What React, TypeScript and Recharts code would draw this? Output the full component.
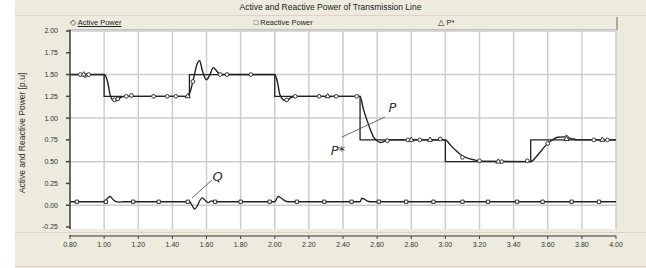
import React from 'react'
import {
  ComposedChart,
  Line,
  Scatter,
  XAxis,
  YAxis,
  ZAxis,
  CartesianGrid,
  ReferenceLine,
  ReferenceDot,
} from 'recharts'

const xTicks = [0.8, 1.0, 1.2, 1.4, 1.6, 1.8, 2.0, 2.2, 2.4, 2.6, 2.8, 3.0, 3.2, 3.4, 3.6, 3.8, 4.0]
const yTicks = [-0.25, 0, 0.25, 0.5, 0.75, 1.0, 1.25, 1.5, 1.75, 2.0]

// P* reference (step)
const refTime = [0.8, 1.0, 1.0, 1.5, 1.5, 2.0, 2.0, 2.5, 2.5, 3.0, 3.0, 3.5, 3.5, 4.0]
const refValue = [1.5, 1.5, 1.25, 1.25, 1.5, 1.5, 1.25, 1.25, 0.75, 0.75, 0.5, 0.5, 0.75, 0.75]

// active power P
const pTime = [
  0.8, 1.0, 1.02, 1.035, 1.05, 1.07, 1.09, 1.12, 1.48, 1.5, 1.52, 1.545, 1.56, 1.575, 1.6, 1.62,
  1.64, 1.66, 1.68, 2.0, 2.015, 2.03, 2.05, 2.07, 2.09, 2.12, 2.5, 2.52, 2.54, 2.56, 2.58, 2.6,
  2.62, 2.65, 2.68, 3.0, 3.03, 3.06, 3.09, 3.13, 3.17, 3.22, 3.5, 3.53, 3.56, 3.59, 3.62, 3.66,
  3.7, 3.74, 3.78, 4.0,
]
const pValue = [
  1.5, 1.5, 1.42, 1.27, 1.21, 1.2, 1.23, 1.25, 1.25, 1.28, 1.42, 1.62, 1.66, 1.55, 1.44, 1.5,
  1.58, 1.54, 1.5, 1.5, 1.42, 1.27, 1.21, 1.2, 1.23, 1.25, 1.25, 1.1, 0.98, 0.87, 0.78, 0.74,
  0.72, 0.74, 0.75, 0.75, 0.69, 0.63, 0.58, 0.54, 0.52, 0.505, 0.5, 0.55, 0.62, 0.69, 0.74, 0.78,
  0.785, 0.765, 0.75, 0.75,
]

// reactive power Q
const qTime = [
  0.8, 1.0, 1.02, 1.035, 1.05, 1.07, 1.09, 1.11, 1.5, 1.515, 1.53, 1.545, 1.56, 1.575, 1.59, 1.61,
  1.63, 1.65, 2.0, 2.02, 2.04, 2.06, 2.08, 2.5, 2.51, 2.525, 2.54, 2.56, 4.0,
]
const qValue = [
  0.04, 0.04, 0.08, 0.1, 0.07, 0.04, 0.035, 0.04, 0.04, 0.0, -0.045, -0.01, 0.05, 0.085, 0.06, 0.03,
  0.05, 0.04, 0.04, 0.1, 0.08, 0.05, 0.04, 0.04, 0.08, 0.07, 0.05, 0.04, 0.04,
]

// markers
const pMarkTime = [
  0.86, 0.89, 0.91, 1.06, 1.08, 1.13, 1.16, 1.29, 1.37, 1.42, 1.52, 1.68, 1.72, 1.86, 2.07, 2.12,
  2.26, 2.36, 2.48, 2.66, 2.78, 2.85, 2.97, 3.1, 3.2, 3.33, 3.48, 3.6, 3.71, 3.87, 3.95,
]
const pMarkValue = [
  1.5, 1.49, 1.5, 1.21, 1.22, 1.25, 1.26, 1.25, 1.25, 1.25, 1.42, 1.5, 1.5, 1.5, 1.21, 1.25,
  1.25, 1.25, 1.25, 0.74, 0.75, 0.75, 0.76, 0.55, 0.51, 0.5, 0.51, 0.71, 0.78, 0.75, 0.75,
]
const qMarkTime = [
  0.84, 1.01, 1.17, 1.32, 1.49, 1.65, 1.8, 1.97, 2.13, 2.29, 2.45, 2.61, 2.77, 2.93, 3.1, 3.25,
  3.42, 3.57, 3.74, 3.9,
]
const qMarkValue = [
  0.04, 0.04, 0.04, 0.04, 0.04, 0.04, 0.04, 0.04, 0.04, 0.04, 0.04, 0.04, 0.04, 0.04, 0.04, 0.04,
  0.04, 0.04, 0.04, 0.04,
]
const refMarkTime = [0.88, 1.49, 2.31, 2.8, 2.91, 3.31, 3.71, 3.92]
const refMarkValue = [1.5, 1.25, 1.25, 0.75, 0.75, 0.5, 0.76, 0.75]

// hand-drawn callouts
const callouts = [
  { text: 'P', x: 2.69, y: 1.12 },
  { text: 'P*', x: 2.37, y: 0.63 },
  { text: 'Q', x: 1.665, y: 0.33 },
]
const pointers = [
  { x1: 2.394, y1: 0.783, x2: 2.646, y2: 1.013 },
  { x1: 1.515, y1: 0.083, x2: 1.632, y2: 0.289 },
]

const zip = (t: number[], v: number[]) => t.map((x, i) => ({ t: x, v: v[i] }))

const refData = zip(refTime, refValue)
const pData = zip(pTime, pValue)
const qData = zip(qTime, qValue)
const pMarks = zip(pMarkTime, pMarkValue)
const qMarks = zip(qMarkTime, qMarkValue)
const refMarks = zip(refMarkTime, refMarkValue)

const BEIGE = '#ecebdd'
const PINK = '#e8cfc6'
const NARROW = "'Liberation Sans Narrow', 'Liberation Sans', Arial, sans-serif"

const App = () => {
  return (
    <div style={{ position: 'relative', width: 646, height: 268, background: '#fff', overflow: 'hidden' }}>
      <style>{'body{margin:0}'}</style>
      <div style={{ position: 'absolute', left: 15, top: 0, width: 631, height: 268, background: BEIGE }} />
      <div
        style={{
          position: 'absolute',
          left: 15,
          top: 0,
          width: 631,
          height: 15,
          borderBottom: `1px solid ${PINK}`,
          textAlign: 'center',
          fontFamily: NARROW,
          fontSize: 8.5,
          lineHeight: '15px',
          color: '#222',
        }}
      >
        Active and Reactive Power of Transmission Line
      </div>
      <div
        style={{
          position: 'absolute',
          left: 68,
          top: 17,
          width: 548,
          height: 12,
          borderRight: '2px solid #a9a9a2',
          borderBottom: '1px solid #a9a9a2',
          display: 'flex',
          fontFamily: NARROW,
          fontSize: 7.5,
          lineHeight: '12px',
          color: '#222',
        }}
      >
        <div style={{ width: 183, paddingLeft: 2 }}>
          ◇ <span style={{ textDecoration: 'underline' }}>Active Power</span>
        </div>
        <div style={{ width: 183, paddingLeft: 3 }}>□ Reactive Power</div>
        <div style={{ width: 180, paddingLeft: 4 }}>△ P*</div>
      </div>
      <div style={{ position: 'absolute', left: 0, top: 0 }}>
        <ComposedChart width={646} height={268} margin={{ top: 30, right: 30, left: 0, bottom: 8 }}>
          <CartesianGrid fill="#fff" stroke="#cdcdcd" strokeWidth={1.5} />
          <XAxis
            dataKey="t"
            type="number"
            domain={[0.8, 4.0]}
            ticks={xTicks}
            allowDataOverflow
            height={24}
            tickFormatter={(v: number) => v.toFixed(2)}
            stroke="#444"
            tickSize={3}
            tickMargin={3}
            tick={{ fontSize: 7, fontFamily: NARROW, fill: '#333' }}
          />
          <YAxis
            dataKey="v"
            type="number"
            domain={[-0.25, 2.0]}
            ticks={yTicks}
            allowDataOverflow
            width={70}
            padding={{ top: 1, bottom: 9 }}
            tickFormatter={(v: number) => v.toFixed(2)}
            stroke="#444"
            strokeWidth={1.5}
            tickSize={4}
            tickMargin={8}
            tick={{ fontSize: 7, fontFamily: NARROW, fill: '#333' }}
            label={{
              value: 'Active and Reactive Power [p.u]',
              angle: -90,
              position: 'center',
              dx: -13,
              style: { fontSize: 8.5, fontFamily: "'Liberation Sans', Arial, sans-serif", fill: '#333' },
            }}
          />
          <ZAxis range={[11, 11]} />
          <Line data={refData} dataKey="v" type="linear" stroke="#222" strokeWidth={1.3} dot={false} isAnimationActive={false} />
          <Line data={qData} dataKey="v" type="monotone" stroke="#222" strokeWidth={1.3} dot={false} isAnimationActive={false} />
          <Line data={pData} dataKey="v" type="monotone" stroke="#222" strokeWidth={1.4} dot={false} isAnimationActive={false} />
          <Scatter data={qMarks} dataKey="v" shape="square" fill="#fff" stroke="#333" isAnimationActive={false} />
          <Scatter data={pMarks} dataKey="v" shape="circle" fill="#fff" stroke="#333" isAnimationActive={false} />
          <Scatter data={refMarks} dataKey="v" shape="triangle" fill="#fff" stroke="#333" isAnimationActive={false} />
          {pointers.map((s, i) => (
            <ReferenceLine
              key={i}
              segment={[
                { x: s.x1, y: s.y1 },
                { x: s.x2, y: s.y2 },
              ]}
              stroke="#444"
              strokeWidth={0.8}
            />
          ))}
          {callouts.map((c) => (
            <ReferenceDot
              key={c.text}
              x={c.x}
              y={c.y}
              r={0}
              stroke="none"
              fill="none"
              label={{
                value: c.text,
                position: 'center',
                fontSize: 13,
                fontStyle: 'italic',
                fontFamily: "'DejaVu Sans', sans-serif",
                fill: '#333',
              }}
            />
          ))}
        </ComposedChart>
      </div>
      <div style={{ position: 'absolute', left: 66, top: 229, width: 560, height: 6, background: BEIGE }} />
      <div style={{ position: 'absolute', left: 15, top: 232, width: 631, height: 1, background: PINK }} />
      <div style={{ position: 'absolute', left: 15, top: 266, width: 631, height: 1, background: PINK }} />
    </div>
  )
}

export default App
